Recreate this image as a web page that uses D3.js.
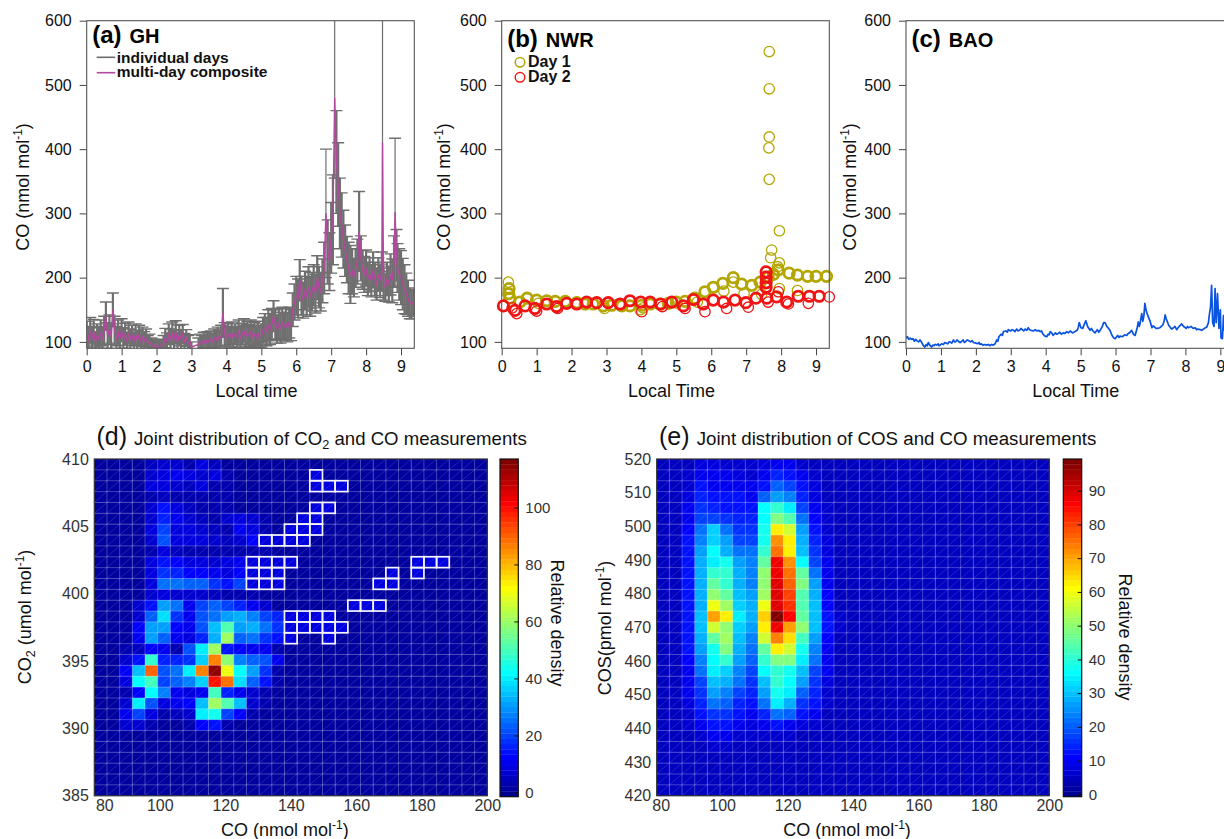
<!DOCTYPE html>
<html>
<head>
<meta charset="utf-8">
<script src="https://cdn.jsdelivr.net/npm/d3@7"></script>
<style>
  body { margin: 0; background: #fff; }
  svg { display: block; }
  text { font-family: "Liberation Sans", Arial, Helvetica, sans-serif; }
</style>
</head>
<body>
<svg id="chart" width="1224" height="839"></svg>
<script>
// ---------------- data ----------------
const timeTicks = [0, 1, 2, 3, 4, 5, 6, 7, 8, 9];
const coTicks = [100, 200, 300, 400, 500, 600];

// (a) GH : [local time, multi-day composite CO, spread of the individual days]
const ghComposite = [
  [0.00,112,20],[0.05,104,18],[0.10,118,20],[0.15,106,18],[0.20,115,20],[0.25,100,16],[0.30,110,18],[0.35,104,18],
  [0.40,114,20],[0.45,106,18],[0.50,118,22],[0.55,140,22],[0.60,110,20],[0.65,120,22],[0.70,108,20],[0.75,150,26],
  [0.80,118,22],[0.85,106,18],[0.90,114,20],[0.95,104,18],[1.00,118,18],[1.05,106,16],[1.10,112,17],[1.15,100,15],
  [1.20,114,17],[1.25,104,16],[1.30,110,16],[1.35,100,15],[1.40,112,16],[1.45,103,15],[1.50,110,16],[1.55,100,14],
  [1.60,108,15],[1.65,102,14],[1.70,106,14],[1.75,98,12],[1.80,100,12],[1.85,96,10],[1.90,95,9],[1.95,93,8],
  [2.00,94,8],[2.05,92,7],[2.10,93,7],[2.15,95,9],[2.20,98,12],[2.25,106,15],[2.30,100,14],[2.35,112,16],
  [2.40,104,16],[2.45,114,17],[2.50,102,16],[2.55,116,17],[2.60,100,15],[2.65,110,16],[2.70,104,15],[2.75,112,15],
  [2.80,100,13],[2.85,106,13],[2.90,98,12],[2.95,100,11],[3.00,92,8],[3.20,96,10],[3.25,100,12],[3.30,98,12],
  [3.35,102,13],[3.40,97,12],[3.45,103,13],[3.50,100,12],[3.55,104,13],[3.60,100,13],[3.65,106,14],[3.70,102,14],
  [3.75,108,15],[3.80,104,14],[3.85,110,16],[3.90,145,38],[3.95,112,18],[4.00,106,16],[4.05,112,17],[4.10,108,16],
  [4.15,114,17],[4.20,106,16],[4.25,112,16],[4.30,108,16],[4.35,116,18],[4.40,106,16],[4.45,112,17],[4.50,118,18],
  [4.55,108,17],[4.60,114,18],[4.65,110,17],[4.70,116,18],[4.75,108,17],[4.80,112,18],[4.85,106,17],[4.90,114,18],
  [4.95,108,17],[5.00,110,18],[5.05,118,20],[5.10,122,22],[5.15,116,22],[5.20,126,24],[5.25,120,24],[5.30,128,24],
  [5.35,140,24],[5.40,126,24],[5.45,120,22],[5.50,128,24],[5.55,122,24],[5.60,130,24],[5.65,124,22],[5.70,128,24],
  [5.75,122,22],[5.80,130,24],[5.85,126,24],[5.90,150,26],[5.95,162,28],[6.00,172,30],[6.05,168,30],[6.10,196,32],
  [6.15,172,30],[6.20,165,28],[6.25,180,30],[6.30,172,30],[6.35,185,32],[6.40,170,30],[6.45,178,30],[6.50,188,32],
  [6.55,175,30],[6.60,200,34],[6.65,185,32],[6.70,178,30],[6.75,195,34],[6.80,215,40],[6.85,300,100],[6.90,240,50],
  [6.95,225,45],[7.00,262,55],[7.05,290,70],[7.10,480,125],[7.15,380,80],[7.20,345,65],[7.25,300,55],[7.30,282,50],
  [7.35,260,45],[7.40,242,40],[7.45,228,36],[7.50,215,40],[7.55,205,45],[7.60,210,35],[7.65,200,30],[7.70,215,30],
  [7.75,225,35],[7.80,272,62],[7.85,230,35],[7.90,212,30],[7.95,205,28],[8.00,215,28],[8.05,198,26],[8.10,205,26],
  [8.15,195,25],[8.20,212,28],[8.25,198,26],[8.30,190,25],[8.35,205,26],[8.40,195,26],[8.45,210,30],[8.47,410,200],
  [8.50,190,25],[8.55,185,22],[8.60,198,26],[8.65,190,28],[8.70,205,32],[8.75,195,34],[8.80,225,40],[8.83,302,115],
  [8.87,235,40],[8.90,215,38],[8.95,205,40],[9.00,200,42],[9.05,190,40],[9.10,182,38],[9.15,175,32],[9.20,168,28],
  [9.25,160,24],[9.30,158,22],[9.35,162,20],[9.38,160,18]
];

// (b) NWR : [local time, CO]; the dense runs are drawn bold, single readings thin
const nwrDay1 = [
  [0.21,183],[0.20,175],[0.23,168],[0.52,162],[0.73,168],[1.00,165],[1.29,164],[1.53,163],[1.82,163],[2.15,161],
  [2.39,159],[2.62,159],[2.91,156],[3.15,157],[3.44,156],[3.67,156],[4.00,157],[4.25,159],[4.53,159],[4.77,160],
  [5.00,162],[5.25,163],[5.53,168],[5.82,178],[6.06,185],[6.33,191],[6.63,200],[6.87,190],[7.16,188],[7.40,193],
  [7.63,201],[7.78,205],[7.92,212],[8.23,207],[8.47,204],[8.76,202],[9.00,202],[9.30,202]
];
const nwrDay1Sparse = [
  [0.19,193],[6.36,179],[6.94,175],[6.63,193],[3.96,150],[2.94,152],[7.44,174],[7.66,552],[7.66,494],[7.66,419],
  [7.65,402],[7.66,353],[7.95,273],[7.73,243],[7.70,231],[7.95,223],[7.90,217],[7.95,183],[8.47,180],[4.05,153],
  [5.60,162],[1.05,160]
];
const nwrDay2 = [
  [0.05,156],[0.38,149],[0.67,156],[0.95,152],[1.29,159],[1.57,155],[1.86,160],[2.15,159],[2.43,162],[2.72,161],
  [3.05,161],[3.39,159],[3.67,164],[3.98,162],[4.25,162],[4.55,159],[4.87,162],[5.20,156],[5.49,166],[5.77,159],
  [6.06,165],[6.35,162],[6.68,165],[6.99,161],[7.28,168],[7.57,209],[7.57,201],[7.57,192],[7.57,185],[7.59,168],
  [7.87,170],[8.16,162],[8.49,171],[8.81,171],[9.09,171]
];
const nwrDay2Sparse = [
  [9.38,170],[0.43,144],[4.01,147],[5.82,147],[6.44,152],[7.06,154],[7.63,162],[7.92,178],[8.78,160],[8.21,159],
  [5.25,152],[1.00,148],[1.60,152],[4.60,155],[0.30,153]
];

// (c) BAO : [local time, CO]
const baoSeries = [
  [0.00,106],[0.04,108],[0.08,104],[0.12,106],[0.16,104],[0.20,105],[0.24,101],[0.28,104],[0.31,102],[0.36,100],
  [0.40,103],[0.43,101],[0.46,98],[0.50,94],[0.54,92],[0.58,96],[0.61,94],[0.64,99],[0.68,95],[0.73,92],
  [0.77,95],[0.80,94],[0.84,96],[0.88,95],[0.92,97],[0.95,94],[1.02,97],[1.07,96],[1.11,99],[1.15,98],
  [1.20,97],[1.23,100],[1.26,100],[1.31,98],[1.36,103],[1.39,100],[1.42,100],[1.46,103],[1.50,101],[1.55,99],
  [1.60,101],[1.64,103],[1.67,99],[1.70,100],[1.75,103],[1.79,102],[1.85,100],[1.89,102],[1.93,99],[2.00,98],
  [2.06,97],[2.09,99],[2.12,96],[2.16,97],[2.20,95],[2.26,96],[2.31,95],[2.36,96],[2.40,94],[2.45,96],
  [2.50,95],[2.55,97],[2.60,103],[2.63,101],[2.66,108],[2.72,112],[2.76,110],[2.79,116],[2.86,117],[2.90,115],
  [2.93,119],[3.00,117],[3.04,119],[3.08,118],[3.12,116],[3.17,120],[3.21,117],[3.25,118],[3.29,121],[3.33,119],
  [3.37,117],[3.41,120],[3.46,118],[3.50,122],[3.54,119],[3.58,118],[3.65,117],[3.70,119],[3.75,117],[3.80,118],
  [3.84,116],[3.88,117],[3.92,112],[3.98,109],[4.03,108],[4.07,112],[4.10,111],[4.13,116],[4.17,114],[4.21,110],
  [4.24,112],[4.28,114],[4.31,112],[4.36,113],[4.40,115],[4.45,112],[4.50,114],[4.55,113],[4.60,116],[4.65,114],
  [4.70,117],[4.74,115],[4.78,114],[4.84,116],[4.90,118],[4.93,122],[4.96,130],[5.01,122],[5.06,121],[5.11,128],
  [5.15,133],[5.20,124],[5.27,118],[5.31,121],[5.35,117],[5.41,114],[5.45,117],[5.48,119],[5.52,115],[5.56,118],
  [5.62,124],[5.66,130],[5.70,130],[5.75,124],[5.80,121],[5.84,118],[5.90,110],[5.95,106],[5.99,105],[6.03,108],
  [6.06,110],[6.10,107],[6.13,109],[6.20,108],[6.26,111],[6.32,110],[6.36,113],[6.40,114],[6.46,118],[6.51,112],
  [6.56,110],[6.62,122],[6.65,131],[6.68,124],[6.70,128],[6.75,144],[6.78,132],[6.81,140],[6.84,160],[6.88,148],
  [6.91,143],[6.94,139],[6.99,132],[7.04,122],[7.08,125],[7.12,123],[7.16,121],[7.20,121],[7.27,122],[7.31,124],
  [7.35,126],[7.39,132],[7.42,142],[7.45,136],[7.48,132],[7.52,126],[7.56,123],[7.60,120],[7.64,121],[7.70,124],
  [7.75,119],[7.79,122],[7.82,124],[7.86,126],[7.89,128],[7.95,124],[8.02,121],[8.06,124],[8.09,122],[8.16,124],
  [8.22,121],[8.28,122],[8.32,119],[8.35,120],[8.42,119],[8.47,118],[8.54,121],[8.61,123],[8.66,130],[8.68,140],
  [8.72,155],[8.75,188],[8.78,130],[8.82,124],[8.85,183],[8.88,130],[8.92,175],[8.96,121],[9.00,150],[9.02,106],
  [9.06,105],[9.09,141],[9.12,118],[9.18,110],[9.25,112],[9.30,108],[9.38,110]
];

// (d) joint CO2 / CO histogram: 31 x 31 bins, rows from top (410) to bottom (385),
// columns 0-16 listed (CO 80 -> ~146); the rest read as the floor colour
const coBinTicks = [80, 100, 120, 140, 160, 180, 200];
const co2Ticks = [385, 390, 395, 400, 405, 410];
const co2Floor = 2;
const co2Density = [
  [2,2,2,2,5,7,6,4,8,5,2,2,2,2,2,2,2],
  [2,2,2,2,6,8,10,8,7,9,4,2,2,2,2,2,2],
  [2,2,2,2,8,9,7,5,8,4,3,2,2,2,2,2,2],
  [2,2,2,2,4,5,4,3,3,3,3,2,2,2,2,2,2],
  [2,2,2,2,6,14,9,5,4,3,3,2,2,2,2,2,2],
  [2,2,2,2,7,16,10,6,5,4,6,8,6,3,2,2,2],
  [2,2,2,2,8,20,9,8,6,5,4,10,8,4,2,2,2],
  [2,2,2,2,7,21,9,9,8,6,5,7,12,9,9,9,9],
  [2,2,2,2,4,8,5,4,4,3,3,3,4,3,2,2,2],
  [2,2,2,2,8,15,12,9,8,7,8,10,9,9,9,9,2],
  [2,2,2,2,8,18,17,12,12,10,8,12,9,9,9,2,2],
  [2,2,2,2,9,25,25,24,23,18,14,20,9,9,9,2,2],
  [2,2,2,2,6,8,7,6,6,5,4,4,3,2,2,2,2],
  [2,2,2,6,14,30,26,10,20,24,20,16,10,6,2,2,2],
  [2,2,2,6,24,38,18,10,22,26,30,32,28,20,16,9,9],
  [2,2,2,12,30,30,12,10,22,35,52,30,32,26,18,9,9],
  [2,2,2,10,30,24,10,8,16,32,60,24,26,18,14,9,2],
  [2,2,3,5,12,10,4,22,40,60,15,12,10,10,4,2,2],
  [2,2,6,14,48,16,16,18,36,86,58,28,24,22,10,2,2],
  [2,2,12,34,90,22,26,40,86,115,70,42,30,18,4,2,2],
  [2,2,8,42,50,20,24,28,36,100,88,38,24,14,3,2,2],
  [2,2,4,12,42,28,10,8,10,50,16,10,6,3,2,2,2],
  [2,2,6,40,22,8,10,12,35,60,52,35,6,3,2,2,2],
  [2,2,10,20,8,4,5,6,40,44,20,12,3,2,2,2,2],
  [2,2,6,6,3,2,2,4,12,15,4,2,2,2,2,2,2],
  [2,2,2,2,2,2,2,2,2,2,2,2,2,2,2,2,2],
  [2,2,2,2,2,2,2,2,2,2,2,2,2,2,2,2,2],
  [2,2,2,2,2,2,2,2,2,2,2,2,2,2,2,2,2],
  [2,2,2,2,2,2,2,2,2,2,2,2,2,2,2,2,2],
  [2,2,2,2,2,2,2,2,2,2,2,2,2,2,2,2,2],
  [2,2,2,2,2,2,2,2,2,2,2,2,2,2,2,2,2]
];
// bins outlined in white: [column, row]; all read at the same pale-blue level
const co2Marked = [
  [17,1],[17,2],[18,2],[19,2],[17,4],[18,4],[16,5],[17,5],[15,6],[16,6],[17,6],[13,7],[14,7],[15,7],[16,7],
  [12,9],[13,9],[14,9],[15,9],[12,10],[13,10],[14,10],[12,11],[13,11],[14,11],[25,9],[26,9],[27,9],[25,10],
  [23,10],[22,11],[23,11],[20,13],[21,13],[22,13],[15,14],[16,14],[17,14],[18,14],[15,15],[16,15],[17,15],
  [18,15],[19,15],[15,16],[18,16]
];
const co2MarkedLevel = 9;
const densityTicksD = [0, 20, 40, 60, 80, 100];

// (e) joint COS / CO histogram: 31 x 31 bins, rows from top (520) to bottom (420), columns 0-14 listed
const cosTicks = [420, 430, 440, 450, 460, 470, 480, 490, 500, 510, 520];
const cosFloor = 4;
const cosDensity = [
  [4,4,5,8,8,7,6,6,8,10,9,7,5,4,4],
  [4,4,6,10,10,9,8,7,10,14,12,9,6,4,4],
  [4,4,7,12,10,10,10,9,12,20,18,12,8,5,4],
  [4,4,8,14,12,12,12,10,20,26,24,14,8,5,4],
  [4,4,9,16,14,13,12,12,36,40,34,18,10,6,4],
  [4,4,10,18,18,16,14,14,36,48,44,22,11,6,4],
  [4,4,11,22,32,22,15,16,38,62,56,26,12,7,5],
  [4,4,12,24,32,26,18,18,38,72,62,28,14,8,5],
  [4,4,12,26,36,28,22,22,40,75,62,30,16,8,5],
  [4,4,12,28,35,38,26,24,46,88,72,36,18,9,5],
  [4,4,12,28,40,40,28,24,50,88,75,46,22,10,5],
  [4,4,12,28,46,40,28,24,50,90,76,48,26,10,5],
  [4,4,12,28,50,46,30,26,52,90,80,44,28,11,5],
  [4,4,12,28,60,52,32,28,60,90,82,44,30,11,5],
  [4,4,12,30,70,62,34,28,66,99,86,46,30,12,6],
  [4,4,12,30,56,50,32,26,62,88,70,50,30,12,6],
  [4,4,12,28,45,52,30,24,56,74,64,42,26,11,5],
  [4,4,12,26,38,48,28,22,46,62,56,38,24,10,5],
  [4,4,11,24,36,40,26,20,40,48,48,34,22,10,5],
  [4,4,10,22,34,32,24,18,36,40,38,30,18,9,5],
  [4,4,10,18,30,28,22,16,30,40,36,26,16,8,5],
  [4,4,9,16,26,24,18,14,26,38,34,20,14,7,4],
  [4,4,8,14,22,20,14,12,22,34,28,16,12,6,4],
  [4,4,7,12,16,16,12,10,14,22,20,12,9,5,4],
  [4,4,6,9,12,12,10,8,10,12,10,8,6,4,4],
  [4,4,5,7,10,9,7,6,6,7,6,5,4,4,4],
  [4,4,4,5,6,6,5,5,5,5,5,4,4,4,4],
  [4,4,4,4,4,4,4,4,4,4,4,4,4,4,4],
  [4,4,4,4,4,4,4,4,4,4,4,4,4,4,4],
  [4,4,4,4,4,4,4,4,4,4,4,4,4,4,4],
  [4,4,4,4,4,4,4,4,4,4,4,4,4,4,4]
];
const densityTicksE = [0, 10, 20, 30, 40, 50, 60, 70, 80, 90];

// ---------------- drawing ----------------
const svg = d3.select("#chart");
const topRow = { y: 20.7, h: 327.6, w: 327.6 };
const timeDomain = [0, 9.38];
const coDomain = [90, 600];

function styleAxis(a, size, color) {
  a.attr("font-family", null);
  a.select(".domain").remove();
  a.selectAll(".tick line").attr("stroke", "#444");
  a.selectAll(".tick text").attr("font-size", size).attr("fill", color);
}

function timePanel(o) {
  const g = svg.append("g").attr("transform", `translate(${o.left},${topRow.y})`);
  const x = d3.scaleLinear().domain(timeDomain).range([0, topRow.w]);
  const y = d3.scaleLinear().domain(coDomain).range([topRow.h, 0]);

  g.append("clipPath").attr("id", "clip-" + o.id)
    .append("rect").attr("width", topRow.w).attr("height", topRow.h);
  const plot = g.append("g");
  if (o.clip) plot.attr("clip-path", `url(#clip-${o.id})`);

  const xAxis = g.append("g").attr("transform", `translate(0,${topRow.h})`)
    .call(d3.axisBottom(x).tickValues(timeTicks).tickSize(7).tickPadding(5));
  const yAxis = g.append("g")
    .call(d3.axisLeft(y).tickValues(coTicks).tickSize(7).tickPadding(8));
  styleAxis(xAxis, 16, "#111");
  styleAxis(yAxis, 16, "#111");

  g.append("rect").attr("width", topRow.w).attr("height", topRow.h)
    .attr("fill", "none").attr("stroke", "#555").attr("stroke-width", 1.1);

  // panel label
  const t = g.append("text").attr("x", 5.5).attr("y", o.labelY - topRow.y).attr("font-weight", "bold");
  t.append("tspan").attr("font-size", 24).text(o.letter);
  t.append("tspan").attr("font-size", 20).attr("dx", 8).text(o.station);

  // axis titles
  const yl = g.append("text")
    .attr("transform", `translate(${o.yLabelX - o.left},${187 - topRow.y}) rotate(-90)`)
    .attr("text-anchor", "middle").attr("font-size", 18).attr("fill", "#111");
  yl.append("tspan").text("CO (nmol mol");
  yl.append("tspan").attr("font-size", 12).attr("dy", -7).text("-1");
  yl.append("tspan").attr("dy", 7).text(")");

  g.append("text").attr("x", topRow.w / 2 + 6).attr("y", 397 - topRow.y)
    .attr("text-anchor", "middle").attr("font-size", 18).attr("fill", "#111").text(o.xLabel);

  return { g, plot, x, y };
}

// ---- (a) GH ----
{
  const p = timePanel({ id: "a", left: 86.7, letter: "(a)", station: "GH", labelY: 43.5, yLabelX: 29.5, xLabel: "Local time", clip: true });
  const bars = p.plot.append("g").attr("stroke", "#6f6f6f");
  const cap = 6;
  ghComposite.forEach(([t, v, e]) => {
    const cx = p.x(t);
    bars.append("line").attr("x1", cx).attr("x2", cx).attr("y1", p.y(v - e)).attr("y2", p.y(v + e))
      .attr("stroke-width", e > 90 ? 1.2 : 2.2);
    bars.append("line").attr("x1", cx - cap).attr("x2", cx + cap).attr("y1", p.y(v + e)).attr("y2", p.y(v + e)).attr("stroke-width", 1.4);
    bars.append("line").attr("x1", cx - cap).attr("x2", cx + cap).attr("y1", p.y(v - e)).attr("y2", p.y(v - e)).attr("stroke-width", 1.4);
  });
  p.plot.append("path").datum(ghComposite)
    .attr("fill", "none").attr("stroke", "#b4479f").attr("stroke-width", 1.4)
    .attr("d", d3.line().x(d => p.x(d[0])).y(d => p.y(d[1])));

  const legend = [["individual days", "#6c6c6c", 57.3, 62.7], ["multi-day composite", "#b4479f", 72.7, 77.3]];
  legend.forEach(([label, color, ly, ty]) => {
    p.g.append("line").attr("x1", 10).attr("x2", 28.5)
      .attr("y1", ly - topRow.y).attr("y2", ly - topRow.y)
      .attr("stroke", color).attr("stroke-width", 1.6);
    p.g.append("text").attr("x", 30).attr("y", ty - topRow.y)
      .attr("font-size", 15.5).attr("font-weight", "bold").attr("fill", "#111").text(label);
  });
}

// ---- (b) NWR ----
{
  const p = timePanel({ id: "b", left: 501.7, letter: "(b)", station: "NWR", labelY: 46.7, yLabelX: 449.5, xLabel: "Local Time", clip: false });
  const olive = "#b3a600", red = "#f01414";
  const dots = (data, color, w) => p.plot.append("g").selectAll("circle").data(data).join("circle")
    .attr("cx", d => p.x(d[0])).attr("cy", d => p.y(d[1])).attr("r", 5.2)
    .attr("fill", "none").attr("stroke", color).attr("stroke-width", w);
  dots(nwrDay1Sparse, olive, 1.3);
  dots(nwrDay1, olive, 2.8);
  dots(nwrDay2Sparse, red, 1.3);
  dots(nwrDay2, red, 2.8);

  [["Day 1", olive, 62.3, 66.7], ["Day 2", red, 77.3, 82.3]].forEach(([label, color, cy, ty]) => {
    p.g.append("circle").attr("cx", 520 - 501.7).attr("cy", cy - topRow.y).attr("r", 4.8)
      .attr("fill", "none").attr("stroke", color).attr("stroke-width", 1.5);
    p.g.append("text").attr("x", 528 - 501.7).attr("y", ty - topRow.y)
      .attr("font-size", 16).attr("font-weight", "bold").attr("fill", "#111").text(label);
  });
}

// ---- (c) BAO ----
{
  const p = timePanel({ id: "c", left: 906, letter: "(c)", station: "BAO", labelY: 47.3, yLabelX: 856, xLabel: "Local Time", clip: true });
  p.plot.append("path").datum(baoSeries)
    .attr("fill", "none").attr("stroke", "#0a52e0").attr("stroke-width", 1.7).attr("stroke-linejoin", "round")
    .attr("d", d3.line().x(d => p.x(d[0])).y(d => p.y(d[1])));
}

// ---------------- joint distributions ----------------
function jetColor(f) {
  const c = v => Math.max(0, Math.min(1, v));
  return d3.rgb(c(1.5 - Math.abs(4 * f - 3)) * 255, c(1.5 - Math.abs(4 * f - 2)) * 255, c(1.5 - Math.abs(4 * f - 1)) * 255);
}
function jetLevel(t) {
  const k = Math.max(0, Math.min(63, Math.floor(t * 64)));
  return jetColor((k + 1) / 64);
}

function heatPanel(o) {
  const n = 31;
  const x = d3.scaleLinear().domain(o.xDomain).range([o.left, o.left + o.w]);
  const y = d3.scaleLinear().domain(o.yDomain).range([o.top + o.h, o.top]);
  const xEdge = d3.range(n + 1).map(i => o.xDomain[0] + i * (o.xDomain[1] - o.xDomain[0]) / n);
  const yEdge = d3.range(n + 1).map(i => o.yDomain[1] - i * (o.yDomain[1] - o.yDomain[0]) / n);
  const level = d3.scaleLinear().domain(o.cbDomain).range([0, 1]).clamp(true);

  const cells = [];
  for (let r = 0; r < n; r++) {
    for (let c = 0; c < n; c++) {
      const row = o.density[r] || [];
      cells.push({ r, c, v: row[c] !== undefined ? row[c] : o.floor });
    }
  }
  (o.marked || []).forEach(([c, r]) => { cells[r * n + c].v = o.markedLevel; });

  const g = svg.append("g");
  g.selectAll("rect.cell").data(cells).join("rect").attr("class", "cell")
    .attr("x", d => x(xEdge[d.c])).attr("y", d => y(yEdge[d.r]))
    .attr("width", d => x(xEdge[d.c + 1]) - x(xEdge[d.c]) + 0.4)
    .attr("height", d => y(yEdge[d.r + 1]) - y(yEdge[d.r]) + 0.4)
    .attr("fill", d => jetLevel(level(d.v)));

  // faceted mesh lines over the bins
  const grid = g.append("g").attr("stroke", "#fff").attr("fill", "none");
  grid.selectAll("line.v").data(xEdge.slice(1, -1)).join("line")
    .attr("x1", d => x(d)).attr("x2", d => x(d)).attr("y1", o.top).attr("y2", o.top + o.h)
    .attr("stroke-opacity", 0.26).attr("stroke-width", 1);
  grid.selectAll("line.h").data(yEdge.slice(1, -1)).join("line")
    .attr("y1", d => y(d)).attr("y2", d => y(d)).attr("x1", o.left).attr("x2", o.left + o.w)
    .attr("stroke-opacity", 0.26).attr("stroke-width", 1);
  grid.append("path")
    .attr("d", cells.map(d => `M${x(xEdge[d.c])},${y(yEdge[d.r + 1])}L${x(xEdge[d.c + 1])},${y(yEdge[d.r])}`).join(""))
    .attr("stroke-opacity", 0.2).attr("stroke-width", 0.7);

  g.selectAll("rect.mark").data(o.marked || []).join("rect").attr("class", "mark")
    .attr("x", d => x(xEdge[d[0]])).attr("y", d => y(yEdge[d[1]]))
    .attr("width", d => x(xEdge[d[0] + 1]) - x(xEdge[d[0]]))
    .attr("height", d => y(yEdge[d[1] + 1]) - y(yEdge[d[1]]))
    .attr("fill", "none").attr("stroke", "#f4f4fa").attr("stroke-width", 1.7);

  g.append("rect").attr("x", o.left).attr("y", o.top).attr("width", o.w).attr("height", o.h)
    .attr("fill", "none").attr("stroke", "#333").attr("stroke-width", 1.2);

  const xa = g.append("g").attr("transform", `translate(0,${o.top + o.h})`)
    .call(d3.axisBottom(x).tickValues(o.xTicks).tickSize(0).tickPadding(4));
  const ya = g.append("g").attr("transform", `translate(${o.left},0)`)
    .call(d3.axisLeft(y).tickValues(o.yTicks).tickSize(0).tickPadding(5.5));
  styleAxis(xa, 16, "#333");
  styleAxis(ya, 16, "#333");
  xa.select(".tick text").attr("dx", o.firstTickShift);

  // colour bar
  const cb = d3.scaleLinear().domain(o.cbDomain).range([o.top + o.h + 1, o.top]);
  const step = (o.cbDomain[1] - o.cbDomain[0]) / 64;
  g.selectAll("rect.cb").data(d3.range(64)).join("rect").attr("class", "cb")
    .attr("x", o.cbX).attr("width", o.cbW)
    .attr("y", k => cb(o.cbDomain[0] + (k + 1) * step))
    .attr("height", k => cb(o.cbDomain[0] + k * step) - cb(o.cbDomain[0] + (k + 1) * step) + 0.3)
    .attr("fill", k => jetColor((k + 1) / 64));
  g.append("rect").attr("x", o.cbX).attr("y", o.top).attr("width", o.cbW).attr("height", o.h + 1)
    .attr("fill", "none").attr("stroke", "#111").attr("stroke-width", 1.2);
  const ca = g.append("g").attr("transform", `translate(${o.cbX + o.cbW},0)`)
    .call(d3.axisRight(cb).tickValues(o.cbTicks).tickSize(-4).tickPadding(7));
  styleAxis(ca, 15, "#333");
  ca.selectAll(".tick line").attr("stroke", "#111");

  g.append("text").attr("transform", `translate(${o.cbLabelX},${o.cbLabelY}) rotate(90)`)
    .attr("text-anchor", "middle").attr("font-size", 18).attr("fill", "#111").text("Relative density");

  // x title
  const xl = g.append("text").attr("x", o.left + o.w / 2 - 6).attr("y", 836)
    .attr("text-anchor", "middle").attr("font-size", 18).attr("fill", "#111");
  xl.append("tspan").text("CO (nmol mol");
  xl.append("tspan").attr("font-size", 12).attr("dy", -7).text("-1");
  xl.append("tspan").attr("dy", 7).text(")");

  // y title
  const yl = g.append("text").attr("transform", `translate(${o.yLabelX},${o.yLabelY}) rotate(-90)`)
    .attr("text-anchor", "middle").attr("font-size", 18).attr("fill", "#111");
  o.yLabel.forEach(([txt, kind]) => {
    const s = yl.append("tspan").text(txt);
    if (kind === "sub") s.attr("font-size", 12.5).attr("dy", 4);
    if (kind === "sup") s.attr("font-size", 12).attr("dy", -7);
    if (kind === "after-sub") s.attr("dy", -4);
    if (kind === "after-sup") s.attr("dy", 7);
  });

  // panel title, narrow face as in the original
  g.append("text").attr("x", o.letterX).attr("y", 445).attr("font-size", 25).attr("fill", "#111").text(o.letter);
  const tg = g.append("g");
  const tt = tg.append("text").attr("x", 0).attr("y", 0).attr("font-size", 19).attr("fill", "#111");
  o.title.forEach(([txt, kind]) => {
    const s = tt.append("tspan").text(txt);
    if (kind === "sub") s.attr("font-size", 13).attr("dy", 4);
    if (kind === "after-sub") s.attr("dy", -4);
  });
  const wNow = tt.node().getBBox().width;
  tg.attr("transform", `translate(${o.titleX},445) scale(${o.titleW / wNow},1)`);
}

heatPanel({
  left: 94.3, top: 459, w: 393, h: 336.7,
  xDomain: [80, 200], yDomain: [385, 410], xTicks: coBinTicks, yTicks: co2Ticks,
  density: co2Density, floor: co2Floor, marked: co2Marked, markedLevel: co2MarkedLevel,
  cbDomain: [-1.5, 117], cbTicks: densityTicksD, cbX: 500, cbW: 18.3, cbLabelX: 550.5, cbLabelY: 623,
  firstTickShift: 10,
  yLabel: [["CO"], ["2", "sub"], [" (umol mol", "after-sub"], ["-1", "sup"], [")", "after-sup"]],
  yLabelX: 30.5, yLabelY: 617,
  letter: "(d)", letterX: 96.5, titleX: 134, titleW: 393,
  title: [["Joint distribution of CO"], ["2", "sub"], [" and CO measurements", "after-sub"]]
});

heatPanel({
  left: 656.7, top: 459, w: 392.6, h: 336.7,
  xDomain: [80, 200], yDomain: [420, 520], xTicks: coBinTicks, yTicks: cosTicks,
  density: cosDensity, floor: cosFloor, marked: [], markedLevel: 0,
  cbDomain: [-0.7, 99.4], cbTicks: densityTicksE, cbX: 1063.3, cbW: 18.4, cbLabelX: 1119, cbLabelY: 637,
  firstTickShift: 4,
  yLabel: [["COS(pmol mol"], ["-1", "sup"], [")", "after-sup"]],
  yLabelX: 611, yLabelY: 628,
  letter: "(e)", letterX: 659, titleX: 696.7, titleW: 400,
  title: [["Joint distribution of COS and CO measurements"]]
});
</script>
</body>
</html>
